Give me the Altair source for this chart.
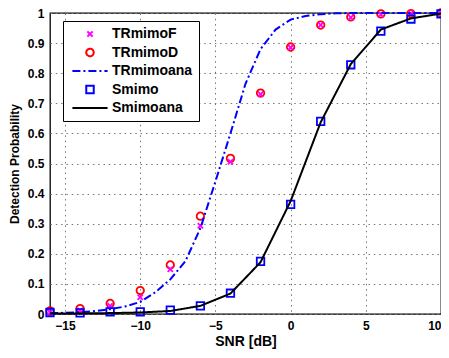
import altair as alt
import pandas as pd

# ---------------- data ----------------
snr = [-16, -14, -12, -10, -8, -6, -4, -2, 0, 2, 4, 6, 8, 10]
tr_mimo_f = [0.006, 0.012, 0.027, 0.056, 0.149, 0.293, 0.506, 0.730, 0.885, 0.960, 0.985, 0.995, 0.998, 1.000]
tr_mimo_d = [0.010, 0.018, 0.035, 0.078, 0.163, 0.325, 0.517, 0.734, 0.887, 0.960, 0.987, 0.997, 0.998, 1.000]
s_mimo = [0.005, 0.004, 0.007, 0.007, 0.013, 0.027, 0.069, 0.175, 0.364, 0.640, 0.828, 0.940, 0.980, 0.997]
s_mimo_ana = [0.002, 0.002, 0.003, 0.005, 0.010, 0.027, 0.068, 0.172, 0.375, 0.637, 0.830, 0.945, 0.982, 0.998]

snr_fine = [-16, -15, -14, -13, -12, -11, -10, -9, -8, -7, -6, -5, -4, -3, -2, -1,
            0, 1, 2, 3, 4, 5, 6, 7, 8, 9, 10]
tr_mimo_ana = [0.003, 0.004, 0.006, 0.010, 0.016, 0.025, 0.040, 0.072, 0.115, 0.175, 0.285,
               0.440, 0.600, 0.765, 0.880, 0.945, 0.978, 0.990, 0.996, 0.999, 1.000, 1.000,
               1.000, 1.000, 1.000, 1.000, 1.000]

x_ticks = [-15, -10, -5, 0, 5, 10]
y_ticks = [0, 0.1, 0.2, 0.3, 0.4, 0.5, 0.6, 0.7, 0.8, 0.9, 1]

series_names = ["TRmimoF", "TRmimoD", "TRmimoana", "Smimo", "Smimoana"]
series_colors = ["#FF00FF", "#FF0000", "#0000FF", "#0000FF", "#000000"]
X_PATH = "M-0.7,-0.7L0.7,0.7M-0.7,0.7L0.7,-0.7"
LINE_PATH = "M-4.7,0L4.7,0"
series_shapes = [X_PATH, "circle", LINE_PATH, "square", LINE_PATH]
series_dashes = [[1, 0], [1, 0], [8, 3, 2, 3], [1, 0], [1, 0]]

# ---------------- tables ----------------
df_tr_pts = pd.concat([
    pd.DataFrame({"snr": snr, "pd": tr_mimo_d, "series": "TRmimoD"}),
    pd.DataFrame({"snr": snr, "pd": tr_mimo_f, "series": "TRmimoF"}),
])
df_tr_ana = pd.DataFrame({"snr": snr_fine, "pd": tr_mimo_ana, "series": "TRmimoana"})
df_s_pts = pd.DataFrame({"snr": snr, "pd": s_mimo, "series": "Smimo"})
df_s_ana = pd.DataFrame({"snr": snr, "pd": s_mimo_ana, "series": "Smimoana"})

FONT = "Liberation Sans"

x_enc = alt.X("snr:Q", scale=alt.Scale(domain=[-16, 10], nice=False),
              axis=alt.Axis(values=x_ticks, title="SNR [dB]", labelPadding=6, titlePadding=3,
                            titleFontSize=14))
y_enc = alt.Y("pd:Q", scale=alt.Scale(domain=[0, 1], nice=False),
              axis=alt.Axis(values=y_ticks, format="~g", title="Detection Probability",
                            labelPadding=6, titlePadding=6, titleFontSize=12))

color_enc = alt.Color("series:N", title=None,
                      scale=alt.Scale(domain=series_names, range=series_colors))
shape_enc = alt.Shape("series:N", title=None,
                      scale=alt.Scale(domain=series_names, range=series_shapes))
dash_enc = alt.StrokeDash("series:N", title=None,
                          scale=alt.Scale(domain=series_names, range=series_dashes))

tr_pts = alt.Chart(df_tr_pts).mark_point(filled=False, size=56, strokeWidth=1.8, opacity=1).encode(
    x=x_enc, y=y_enc, color=color_enc, shape=shape_enc)
tr_ana = alt.Chart(df_tr_ana).mark_line(strokeWidth=2).encode(
    x=x_enc, y=y_enc, color=color_enc, strokeDash=dash_enc)
s_pts = alt.Chart(df_s_pts).mark_point(filled=False, size=56, strokeWidth=1.8, opacity=1).encode(
    x=x_enc, y=y_enc, color=color_enc, shape=shape_enc)
s_ana = alt.Chart(df_s_ana).mark_line(strokeWidth=2).encode(
    x=x_enc, y=y_enc, color=color_enc, strokeDash=dash_enc)

chart = alt.layer(tr_pts, tr_ana, s_pts, s_ana).properties(
    width=391, height=301,
    autosize=alt.AutoSizeParams(type="none"),
    padding={"left": 42, "top": 5, "right": 0, "bottom": 36},
).configure_view(
    stroke="black", strokeWidth=1.3
).configure_axis(
    domain=False, ticks=False, grid=True, gridColor="#777777", gridDash=[1.5, 3.8], gridWidth=1,
    labelFont=FONT, labelFontSize=12, labelFontWeight="bold", labelColor="black",
    titleFont=FONT, titleFontWeight="bold", titleColor="black",
).configure_legend(
    orient="none", legendX=13, legendY=8, fillColor="white", strokeColor="black",
    strokeWidth=1, cornerRadius=0, padding=6, rowPadding=3.5,
    symbolSize=56, symbolStrokeWidth=2, symbolOffset=14, labelOffset=15,
    labelFont=FONT, labelFontSize=14, labelFontWeight="bold", labelColor="black",
)

chart.save("out.html", embed_options={"renderer": "svg", "actions": False})
